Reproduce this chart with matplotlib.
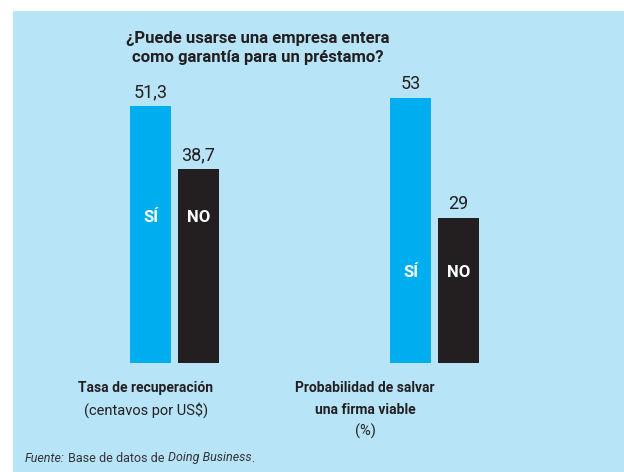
import matplotlib
matplotlib.use("Agg")
import matplotlib.pyplot as plt

# Data
groups = ["Tasa de recuperación", "Probabilidad de salvar una firma viable"]
si_vals = [51.3, 53]
no_vals = [38.7, 29]
si_labels = ["51,3", "53"]
no_labels = ["38,7", "29"]
inner_label_y = [29, 18]

BG = "#b8e4f8"
CYAN = "#00aeef"
DARK = "#231f20"

plt.rcParams["font.family"] = ["Roboto", "DejaVu Sans"]

W, H = 624, 472
fig = plt.figure(figsize=(W / 100, H / 100), dpi=100)
fig.patch.set_facecolor("white")

# light blue panel behind everything
bg = fig.add_axes([13 / W, 0, 1 - 13 / W, 1 - 11 / H], zorder=-1)
bg.set_facecolor(BG)
bg.set_xticks([])
bg.set_yticks([])
for s in bg.spines.values():
    s.set_visible(False)

base_px = 362.7
ppu = 5.0
top_px = 11
ax = fig.add_axes([0, 1 - base_px / H, 1, (base_px - top_px) / H])
ax.set_facecolor("none")
ax.set_ylim(0, (base_px - top_px) / ppu)
gap_px = 260
ax.set_xlim(-174.5 / gap_px, (W - 174.5) / gap_px)
ax.axis("off")

bw = 41 / gap_px
off = 24 / gap_px
for i in range(len(groups)):
    ax.bar(i - off, si_vals[i], width=bw, color=CYAN)
    ax.bar(i + off, no_vals[i], width=bw, color=DARK)
    ax.text(i - off, si_vals[i] + 1.0, si_labels[i], ha="center", va="bottom",
            fontsize=13, color=DARK)
    ax.text(i + off, no_vals[i] + 1.0, no_labels[i], ha="center", va="bottom",
            fontsize=13, color=DARK)
    ax.text(i - off, inner_label_y[i], "SÍ", ha="center", va="center",
            fontsize=12, fontweight="bold", color="white")
    ax.text(i + off, inner_label_y[i], "NO", ha="center", va="center",
            fontsize=12, fontweight="bold", color="white")

def px(x, y):
    return x / W, 1 - y / H

fig.text(*px(258, 48), "¿Puede usarse una empresa entera\ncomo garantía para un préstamo?",
         ha="center", va="center", fontsize=12, fontweight="bold", color=DARK,
         linespacing=1.4)

fig.text(*px(146, 388), "Tasa de recuperación", ha="center", va="center",
         fontsize=10, fontweight="bold", color=DARK)
fig.text(*px(146, 410), "(centavos por US$)", ha="center", va="center",
         fontsize=10.5, color=DARK)
fig.text(*px(365, 388), "Probabilidad de salvar", ha="center", va="center",
         fontsize=10, fontweight="bold", color=DARK)
fig.text(*px(365, 410), "una firma viable", ha="center", va="center",
         fontsize=10, fontweight="bold", color=DARK)
fig.text(*px(365, 431), "(%)", ha="center", va="center",
         fontsize=10.5, color=DARK)

# source line built from pieces with mixed styles
pieces = [("Fuente:", "italic"), (" Base de datos de ", "normal"),
          ("Doing Business", "italic"), (".", "normal")]
renderer = fig.canvas.get_renderer()
x = 25
for txt, style in pieces:
    t = fig.text(*px(x, 458), txt, ha="left", va="center", fontsize=9,
                 style=style, color="#333333")
    bb = t.get_window_extent(renderer=renderer)
    x += bb.width

fig.savefig("out.png", dpi=100, facecolor=fig.get_facecolor())
